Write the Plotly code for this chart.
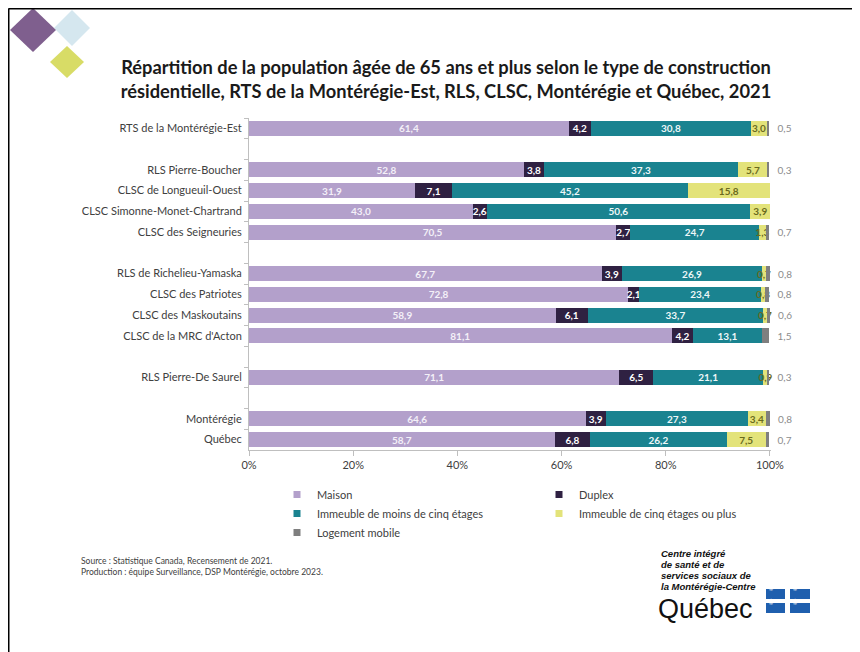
import plotly.graph_objects as go

# ---------------- data ----------------
categories = [
    "RTS de la Montérégie-Est", " ",
    "RLS Pierre-Boucher", "CLSC de Longueuil-Ouest",
    "CLSC Simonne-Monet-Chartrand", "CLSC des Seigneuries", "  ",
    "RLS de Richelieu-Yamaska", "CLSC des Patriotes",
    "CLSC des Maskoutains", "CLSC de la MRC d'Acton", "   ",
    "RLS Pierre-De Saurel", "    ",
    "Montérégie", "Québec",
]
maison  = [61.4, None, 52.8, 31.9, 43.0, 70.5, None, 67.7, 72.8, 58.9, 81.1, None, 71.1, None, 64.6, 58.7]
duplex  = [4.2, None, 3.8, 7.1, 2.6, 2.7, None, 3.9, 2.1, 6.1, 4.2, None, 6.5, None, 3.9, 6.8]
moins5  = [30.8, None, 37.3, 45.2, 50.6, 24.7, None, 26.9, 23.4, 33.7, 13.1, None, 21.1, None, 27.3, 26.2]
plus5   = [3.0, None, 5.7, 15.8, 3.9, 1.3, None, 0.7, 0.8, 0.7, 0.0, None, 0.9, None, 3.4, 7.5]
mobile  = [0.5, None, 0.3, 0.0, 0.0, 0.7, None, 0.8, 0.8, 0.6, 1.5, None, 0.3, None, 0.8, 0.7]

series_names = ["Maison", "Duplex", "Immeuble de moins de cinq étages",
                "Immeuble de cinq étages ou plus", "Logement mobile"]
series_values = [maison, duplex, moins5, plus5, mobile]
colors = ["#b3a0cb", "#2f2142", "#1a8390", "#e3e37a", "#7f7f7f"]
text_colors = ["#f4f0f8", "#ffffff", "#eef7f8", "#6a6a1e", "#8c8c8c"]

x_tickvals = [0, 20, 40, 60, 80, 100]
x_ticktext = ["0%", "20%", "40%", "60%", "80%", "100%"]

source_lines = ["Source : Statistique Canada, Recensement de 2021.",
                "Production : équipe Surveillance, DSP Montérégie, octobre 2023."]
logo_lines = ["Centre intégré", "de santé et de", "services sociaux de", "la Montérégie-Centre"]
title_text = ("Répartition de la population âgée de 65 ans et plus selon le type de construction<br>"
              "résidentielle, RTS de la Montérégie-Est, RLS, CLSC, Montérégie et Québec, 2021")

# ---------------- layout helpers (page pixel coords; page has 8px body margin) ----------------
OFF = 8
W, H = 860 - OFF, 652 - OFF
L, R, T, B = 249, 771, 118, 450   # plot area in page pixels


def px(x):
    return (x - L) / (R - L)


def py(y):
    return (B - y) / (B - T)


def fmt(v, lead=""):
    if v is None or v == 0:
        return ""
    return lead + f"{v:.1f}".replace(".", ",")


FONT = "Lato"
fig = go.Figure()

for i, (name, vals) in enumerate(zip(series_names, series_values)):
    last = i == len(series_names) - 1
    fig.add_trace(go.Bar(
        y=categories, x=vals, orientation="h", name=name,
        marker=dict(color=colors[i], line=dict(width=0)),
        text=[fmt(v, "\u00a0\u00a0" if last else "") for v in vals],
        textposition="outside" if last else "inside",
        insidetextanchor="middle",
        constraintext="none",
        textangle=0,
        cliponaxis=False,
        textfont=dict(family=FONT, size=10, color=text_colors[i],
                      weight="normal" if last else "bold"),
        showlegend=False,
        hoverinfo="skip",
    ))

# legend entries with small square markers
for i, name in enumerate(series_names):
    fig.add_trace(go.Scatter(
        x=[None], y=[None], mode="markers", name=name,
        marker=dict(symbol="square", size=7, color=colors[i]),
        showlegend=True,
    ))

shapes = []


def diamond(cx, cy, hx, hy, color):
    path = (f"M {px(cx - hx)} {py(cy)} L {px(cx)} {py(cy - hy)} "
            f"L {px(cx + hx)} {py(cy)} L {px(cx)} {py(cy + hy)} Z")
    return dict(type="path", xref="paper", yref="paper", path=path,
                fillcolor=color, line=dict(width=0), layer="above")


shapes.append(diamond(72, 28, 18, 18, "#d5e7ef"))
shapes.append(diamond(33, 30, 23, 22, "#7f5f8e"))
shapes.append(diamond(67, 62, 17, 16, "#d8dc66"))
# frame lines
shapes.append(dict(type="line", xref="paper", yref="paper",
                   x0=px(8.5), x1=px(860), y0=py(8.5), y1=py(8.5),
                   line=dict(color="#000000", width=2)))
shapes.append(dict(type="line", xref="paper", yref="paper",
                   x0=px(8.5), x1=px(8.5), y0=py(8.5), y1=py(652),
                   line=dict(color="#000000", width=2)))
# Quebec flag squares
flag_boxes = [(766, 785, 589, 599), (790, 810, 589, 599),
              (766, 785, 603, 613), (790, 810, 603, 613)]
annotations = []
for (x0, x1, y0, y1) in flag_boxes:
    shapes.append(dict(type="rect", xref="paper", yref="paper",
                       x0=px(x0), x1=px(x1), y0=py(y0), y1=py(y1),
                       fillcolor="#1f5fae", line=dict(width=0), layer="below"))
    annotations.append(dict(xref="paper", yref="paper", x=px((x0 + x1) / 2), y=py((y0 + y1) / 2),
                            text="⚜", showarrow=False, borderpad=0,
                            font=dict(family="DejaVu Sans", size=9, color="#ffffff")))

for k, line in enumerate(source_lines):
    annotations.append(dict(xref="paper", yref="paper", x=px(80), y=py(561 + 11 * k),
                            xanchor="left", yanchor="middle", align="left",
                            text=line, showarrow=False, borderpad=0,
                            font=dict(family=FONT, size=8.5, color="#404040")))
for k, line in enumerate(logo_lines):
    annotations.append(dict(xref="paper", yref="paper", x=px(660), y=py(553 + 11 * k),
                            xanchor="left", yanchor="middle", align="left",
                            text="<b><i>" + line + "</i></b>", showarrow=False, borderpad=0,
                            font=dict(family="Liberation Sans", size=9.5, color="#111111")))
annotations.append(dict(xref="paper", yref="paper", x=px(657), y=py(608.5),
                        xanchor="left", yanchor="middle", borderpad=0,
                        text="Québec", showarrow=False,
                        font=dict(family="Liberation Sans", size=27, color="#111111")))

fig.update_layout(
    width=W, height=H,
    margin=dict(l=L - OFF, r=W - (R - OFF), t=T - OFF, b=H - (B - OFF), pad=0),
    barmode="stack", bargap=0.28,
    paper_bgcolor="#ffffff", plot_bgcolor="#ffffff",
    font=dict(family=FONT, size=11, color="#404040"),
    title=dict(text="<b>" + title_text + "</b>", x=(446 - OFF) / W, xanchor="center",
               y=1 - (74 - OFF) / H, yanchor="middle",
               font=dict(family=FONT, size=18.3, color="#1a1a1a")),
    xaxis=dict(range=[0, 100.2], tickvals=x_tickvals, ticktext=x_ticktext,
               showgrid=False, zeroline=False, showline=True, linecolor="#bfbfbf",
               ticks="outside", ticklen=5, tickcolor="#bfbfbf",
               tickfont=dict(family=FONT, size=11, color="#404040")),
    yaxis=dict(categoryorder="array", categoryarray=categories, autorange="reversed",
               showgrid=False, zeroline=False, showline=True, linecolor="#bfbfbf",
               ticks="outside", ticklen=4, tickcolor="#bfbfbf", tickson="boundaries",
               ticklabelstandoff=4,
               tickfont=dict(family=FONT, size=11, color="#404040")),
    legend=dict(orientation="h", x=px(277), xanchor="left", y=py(480), yanchor="top",
                entrywidth=217, entrywidthmode="pixels", traceorder="normal",
                font=dict(family=FONT, size=11, color="#404040"),
                itemclick=False, tracegroupgap=0),
    shapes=shapes,
    annotations=annotations,
)

fig.write_html("out.html")
